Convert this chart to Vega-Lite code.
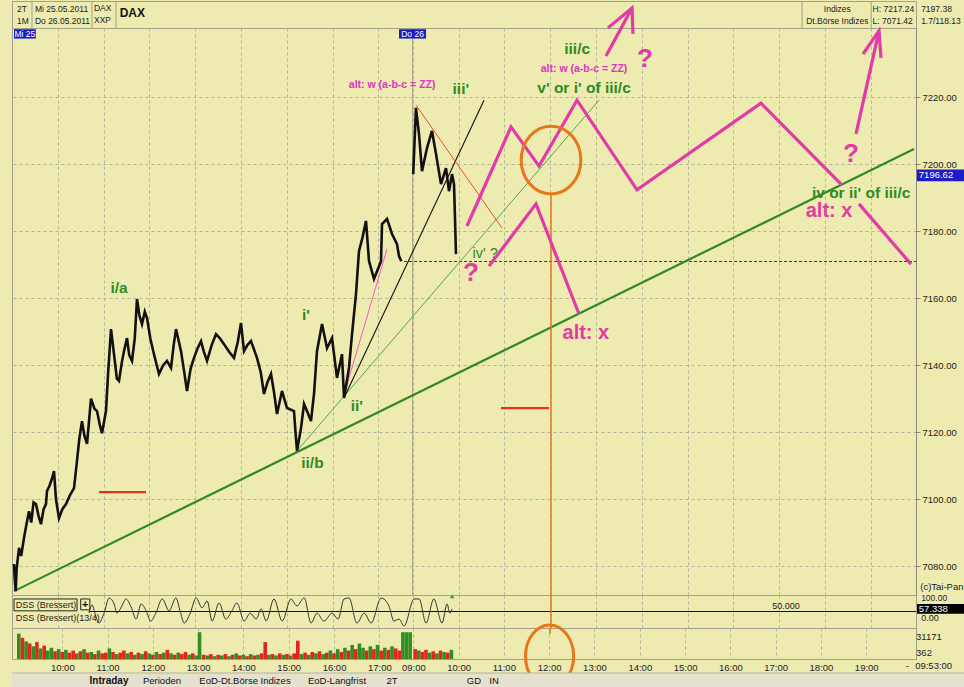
{
"$schema":"https://vega.github.io/schema/vega-lite/v6.json",
"background":"#EEEBB1",
"padding":{"left":8,"top":0,"right":0,"bottom":0},
"bounds":"flush",
"spacing":0,
"config":{"view":{"stroke":"#A3A18C","strokeWidth":1},"font":"Liberation Sans","axis":{"labelFont":"Liberation Sans","titleFont":"Liberation Sans"},"text":{"font":"Liberation Sans"}},
"resolve":{"scale":{"x":"independent","y":"independent","color":"independent"}},
"datasets":{
"price":[
{"d":1,"t":0.044,"p":7080.6},{"d":1,"t":0.06,"p":7076},{"d":1,"t":0.081,"p":7072.5},{"d":1,"t":0.1,"p":7079},{"d":1,"t":0.153,"p":7085.4},{"d":1,"t":0.2,"p":7083},{"d":1,"t":0.262,"p":7088.4},{"d":1,"t":0.31,"p":7092},{"d":1,"t":0.371,"p":7096.4},{"d":1,"t":0.42,"p":7093},{"d":1,"t":0.47,"p":7099},{"d":1,"t":0.524,"p":7098.5},{"d":1,"t":0.58,"p":7095},{"d":1,"t":0.633,"p":7092.5},{"d":1,"t":0.69,"p":7097},{"d":1,"t":0.742,"p":7098.5},{"d":1,"t":0.764,"p":7102.4},{"d":1,"t":0.82,"p":7104},{"d":1,"t":0.87,"p":7106},{"d":1,"t":0.917,"p":7108.4},{"d":1,"t":0.96,"p":7100},{"d":1,"t":1.026,"p":7094.3},{"d":1,"t":1.1,"p":7097},{"d":1,"t":1.179,"p":7098.5},{"d":1,"t":1.26,"p":7101},{"d":1,"t":1.354,"p":7103.3},{"d":1,"t":1.419,"p":7111.4},{"d":1,"t":1.47,"p":7118},{"d":1,"t":1.528,"p":7123.3},{"d":1,"t":1.58,"p":7119},{"d":1,"t":1.638,"p":7116.5},{"d":1,"t":1.725,"p":7130},{"d":1,"t":1.8,"p":7127},{"d":1,"t":1.856,"p":7126.3},{"d":1,"t":1.92,"p":7122},{"d":1,"t":1.965,"p":7119.7},{"d":1,"t":2.052,"p":7126.3},{"d":1,"t":2.1,"p":7138},{"d":1,"t":2.162,"p":7150.8},{"d":1,"t":2.227,"p":7143.3},{"d":1,"t":2.29,"p":7136},{"d":1,"t":2.336,"p":7135.3},{"d":1,"t":2.4,"p":7141},{"d":1,"t":2.445,"p":7144.2},{"d":1,"t":2.511,"p":7148.1},{"d":1,"t":2.56,"p":7143},{"d":1,"t":2.62,"p":7141.3},{"d":1,"t":2.68,"p":7148},{"d":1,"t":2.729,"p":7159.8},{"d":1,"t":2.78,"p":7155},{"d":1,"t":2.838,"p":7152.3},{"d":1,"t":2.9,"p":7156},{"d":1,"t":2.948,"p":7154.1},{"d":1,"t":3.02,"p":7148},{"d":1,"t":3.1,"p":7143.3},{"d":1,"t":3.16,"p":7140},{"d":1,"t":3.21,"p":7137.4},{"d":1,"t":3.3,"p":7140},{"d":1,"t":3.384,"p":7141.3},{"d":1,"t":3.472,"p":7139.2},{"d":1,"t":3.53,"p":7146},{"d":1,"t":3.581,"p":7150.8},{"d":1,"t":3.69,"p":7144.2},{"d":1,"t":3.76,"p":7138},{"d":1,"t":3.821,"p":7132.3},{"d":1,"t":3.9,"p":7139},{"d":1,"t":3.974,"p":7142.2},{"d":1,"t":4.05,"p":7145},{"d":1,"t":4.127,"p":7147.2},{"d":1,"t":4.19,"p":7144},{"d":1,"t":4.258,"p":7141.3},{"d":1,"t":4.36,"p":7146},{"d":1,"t":4.454,"p":7149.3},{"d":1,"t":4.54,"p":7148},{"d":1,"t":4.629,"p":7146.3},{"d":1,"t":4.74,"p":7144},{"d":1,"t":4.847,"p":7142.2},{"d":1,"t":4.93,"p":7147},{"d":1,"t":5.0,"p":7152.6},{"d":1,"t":5.066,"p":7144.2},{"d":1,"t":5.14,"p":7146},{"d":1,"t":5.218,"p":7147.2},{"d":1,"t":5.349,"p":7142.2},{"d":1,"t":5.43,"p":7138},{"d":1,"t":5.502,"p":7131.4},{"d":1,"t":5.58,"p":7135},{"d":1,"t":5.655,"p":7137.4},{"d":1,"t":5.72,"p":7132},{"d":1,"t":5.786,"p":7125.4},{"d":1,"t":5.895,"p":7132.3},{"d":1,"t":6.004,"p":7127.2},{"d":1,"t":6.157,"p":7126.3},{"d":1,"t":6.19,"p":7120},{"d":1,"t":6.223,"p":7114.4},{"d":1,"t":6.31,"p":7121.2},{"d":1,"t":6.376,"p":7128.4},{"d":1,"t":6.45,"p":7126},{"d":1,"t":6.528,"p":7123.3},{"d":1,"t":6.594,"p":7131.4},{"d":1,"t":6.659,"p":7144.2},{"d":1,"t":6.769,"p":7152.3},{"d":1,"t":6.878,"p":7145.1},{"d":1,"t":6.987,"p":7148.1},{"d":1,"t":7.096,"p":7136.2},{"d":1,"t":7.205,"p":7143.3},{"d":1,"t":7.249,"p":7130.2},{"d":1,"t":7.358,"p":7139.2},{"d":1,"t":7.424,"p":7149.3},{"d":1,"t":7.511,"p":7161.3},{"d":1,"t":7.576,"p":7174.1},{"d":1,"t":7.65,"p":7178},{"d":1,"t":7.729,"p":7183.1},{"d":1,"t":7.795,"p":7171.1},{"d":1,"t":7.904,"p":7165.8},{"d":1,"t":8.057,"p":7171.1},{"d":1,"t":8.079,"p":7182.2},{"d":1,"t":8.188,"p":7183.7},{"d":1,"t":8.297,"p":7179.2},{"d":1,"t":8.406,"p":7176.2},{"d":1,"t":8.45,"p":7172.6},{"d":1,"t":8.5,"p":7171.1},
{"d":2,"t":8.76,"p":7197.1},{"d":2,"t":8.79,"p":7207},{"d":2,"t":8.82,"p":7216.9},{"d":2,"t":8.886,"p":7209.1},{"d":2,"t":8.952,"p":7198},{"d":2,"t":9.0,"p":7201},{"d":2,"t":9.061,"p":7204.9},{"d":2,"t":9.17,"p":7210},{"d":2,"t":9.258,"p":7203.1},{"d":2,"t":9.367,"p":7194.1},{"d":2,"t":9.476,"p":7198.9},{"d":2,"t":9.541,"p":7192},{"d":2,"t":9.607,"p":7197.1},{"d":2,"t":9.651,"p":7194.1},{"d":2,"t":9.67,"p":7185},{"d":2,"t":9.694,"p":7173.2}
],
"lines":[
{"n":"trend","i":0,"t":0.044,"p":7072.5},{"n":"trend","i":1,"t":19.694,"p":7204.6},
{"n":"trend2","i":0,"t":6.223,"p":7114.4},{"n":"trend2","i":1,"t":12.817,"p":7219.2},
{"n":"fan1","i":0,"t":7.249,"p":7130.2},{"n":"fan1","i":1,"t":10.306,"p":7219.2},
{"n":"fan2","i":0,"t":7.293,"p":7133.2},{"n":"fan2","i":1,"t":8.188,"p":7174.7},
{"n":"down","i":0,"t":8.821,"p":7217.7},{"n":"down","i":1,"t":10.699,"p":7181.0},
{"n":"lvl1","i":0,"t":1.9,"p":7102.1},{"n":"lvl1","i":1,"t":2.926,"p":7102.1},
{"n":"lvl2","i":0,"t":10.677,"p":7127.2},{"n":"lvl2","i":1,"t":11.725,"p":7127.2}
],
"mag":[
{"n":"zz1a","i":0,"t":9.934,"p":7181.6},{"n":"zz1a","i":1,"t":10.895,"p":7211.2},{"n":"zz1a","i":2,"t":11.507,"p":7199.5},{"n":"zz1a","i":3,"t":12.336,"p":7219.2},{"n":"zz1a","i":4,"t":13.646,"p":7192.4},{"n":"zz1a","i":5,"t":16.354,"p":7218.3},{"n":"zz1a","i":6,"t":18.122,"p":7193.8},
{"n":"zz1b","i":0,"t":18.493,"p":7188.2},{"n":"zz1b","i":1,"t":19.629,"p":7170.2},
{"n":"zz2","i":0,"t":10.415,"p":7169.6},{"n":"zz2","i":1,"t":11.441,"p":7188.2},{"n":"zz2","i":2,"t":12.38,"p":7155.3},
{"n":"ar1","i":0,"t":12.969,"p":7232.4},{"n":"ar1","i":1,"t":13.537,"p":7246.7},
{"n":"ar1h","i":0,"t":13.013,"p":7240.8},{"n":"ar1h","i":1,"t":13.537,"p":7246.7},{"n":"ar1h","i":2,"t":13.559,"p":7239.0},
{"n":"ar2","i":0,"t":18.428,"p":7209.1},{"n":"ar2","i":1,"t":18.93,"p":7239.9},
{"n":"ar2h","i":0,"t":18.581,"p":7233.0},{"n":"ar2h","i":1,"t":18.93,"p":7239.9},{"n":"ar2h","i":2,"t":18.974,"p":7231.8}
],
"notes":[
{"k":"gb","t":2.336,"p":7163.1,"s":"i/a"},{"k":"gb","t":6.42,"p":7155.0,"s":"i'"},{"k":"gb","t":6.56,"p":7110.8,"s":"ii/b"},{"k":"gb","t":7.53,"p":7127.8,"s":"ii'"},{"k":"gb","t":9.8,"p":7222.5,"s":"iii'"},{"k":"gb","t":12.34,"p":7234.5,"s":"iii/c"},{"k":"gb","t":12.49,"p":7222.8,"s":"v' or i' of iii/c"},{"k":"gb","t":18.54,"p":7191.5,"s":"iv or ii' of iii/c"},
{"k":"gn","t":10.33,"p":7173.2,"s":"iv' ?"},
{"k":"q","t":13.82,"p":7231.5,"s":"?"},{"k":"q","t":10.02,"p":7167.6,"s":"?"},{"k":"q","t":18.32,"p":7203.1,"s":"?"},
{"k":"ax","t":12.53,"p":7149.6,"s":"alt: x"},{"k":"ax","t":17.84,"p":7186.1,"s":"alt: x"},
{"k":"aw","t":8.3,"p":7223.7,"s":"alt: w (a-b-c = ZZ)"},{"k":"aw","t":12.49,"p":7228.5,"s":"alt: w (a-b-c = ZZ)"}
],
"dss":[
{"t":1.68,"v":45},{"t":1.75,"v":70},{"t":1.81,"v":45},{"t":1.9,"v":15},{"t":2.01,"v":45},{"t":2.12,"v":91},{"t":2.23,"v":73},{"t":2.29,"v":45},{"t":2.4,"v":67},{"t":2.49,"v":88},{"t":2.6,"v":64},{"t":2.71,"v":27},{"t":2.82,"v":73},{"t":2.93,"v":52},{"t":3.03,"v":21},{"t":3.14,"v":45},{"t":3.28,"v":88},{"t":3.43,"v":52},{"t":3.58,"v":91},{"t":3.67,"v":52},{"t":3.76,"v":15},{"t":3.89,"v":45},{"t":4.02,"v":91},{"t":4.15,"v":61},{"t":4.26,"v":82},{"t":4.37,"v":21},{"t":4.52,"v":76},{"t":4.67,"v":27},{"t":4.8,"v":52},{"t":4.91,"v":76},{"t":5.07,"v":21},{"t":5.2,"v":45},{"t":5.33,"v":27},{"t":5.44,"v":58},{"t":5.55,"v":21},{"t":5.72,"v":88},{"t":5.9,"v":21},{"t":6.09,"v":88},{"t":6.22,"v":67},{"t":6.38,"v":91},{"t":6.53,"v":15},{"t":6.66,"v":45},{"t":6.81,"v":21},{"t":6.99,"v":45},{"t":7.12,"v":27},{"t":7.25,"v":88},{"t":7.36,"v":91},{"t":7.53,"v":15},{"t":7.69,"v":45},{"t":7.84,"v":15},{"t":8.06,"v":91},{"t":8.23,"v":67},{"t":8.34,"v":21},{"t":8.45,"v":27},{"t":8.56,"v":6},{"t":8.78,"v":88},{"t":8.89,"v":88},{"t":9.04,"v":15},{"t":9.21,"v":88},{"t":9.39,"v":15},{"t":9.5,"v":73},{"t":9.56,"v":45},{"t":9.61,"v":58}
],
"vol":[
{"t":0.04,"v":36,"c":"g"},{"t":0.12,"v":30,"c":"r"},{"t":0.2,"v":25,"c":"g"},{"t":0.28,"v":22,"c":"r"},{"t":0.36,"v":18,"c":"g"},{"t":0.44,"v":24,"c":"r"},{"t":0.52,"v":15,"c":"g"},{"t":0.6,"v":19,"c":"r"},{"t":0.68,"v":12,"c":"g"},{"t":0.76,"v":16,"c":"g"},{"t":0.84,"v":11,"c":"r"},{"t":0.92,"v":14,"c":"g"},{"t":1.0,"v":10,"c":"r"},{"t":1.08,"v":13,"c":"g"},{"t":1.16,"v":9,"c":"r"},{"t":1.24,"v":12,"c":"r"},{"t":1.32,"v":8,"c":"g"},{"t":1.4,"v":11,"c":"r"},{"t":1.48,"v":14,"c":"g"},{"t":1.56,"v":9,"c":"r"},{"t":1.64,"v":10,"c":"g"},{"t":1.72,"v":7,"c":"r"},{"t":1.8,"v":12,"c":"g"},{"t":1.88,"v":8,"c":"r"},{"t":1.96,"v":9,"c":"r"},{"t":2.04,"v":15,"c":"g"},{"t":2.12,"v":10,"c":"r"},{"t":2.2,"v":7,"c":"g"},{"t":2.28,"v":9,"c":"r"},{"t":2.36,"v":12,"c":"r"},{"t":2.44,"v":8,"c":"g"},{"t":2.52,"v":10,"c":"r"},{"t":2.6,"v":6,"c":"g"},{"t":2.68,"v":9,"c":"r"},{"t":2.76,"v":7,"c":"g"},{"t":2.84,"v":11,"c":"r"},{"t":2.92,"v":8,"c":"g"},{"t":3.0,"v":6,"c":"r"},{"t":3.08,"v":10,"c":"g"},{"t":3.16,"v":7,"c":"r"},{"t":3.24,"v":9,"c":"g"},{"t":3.32,"v":13,"c":"r"},{"t":3.4,"v":8,"c":"g"},{"t":3.48,"v":6,"c":"r"},{"t":3.56,"v":9,"c":"g"},{"t":3.64,"v":7,"c":"r"},{"t":3.72,"v":10,"c":"r"},{"t":3.8,"v":6,"c":"g"},{"t":3.88,"v":8,"c":"r"},{"t":3.96,"v":5,"c":"g"},{"t":4.03,"v":38,"c":"g"},{"t":4.12,"v":6,"c":"r"},{"t":4.2,"v":5,"c":"g"},{"t":4.28,"v":7,"c":"r"},{"t":4.36,"v":4,"c":"g"},{"t":4.44,"v":6,"c":"r"},{"t":4.52,"v":5,"c":"g"},{"t":4.6,"v":7,"c":"r"},{"t":4.68,"v":4,"c":"g"},{"t":4.76,"v":6,"c":"r"},{"t":4.84,"v":8,"c":"g"},{"t":4.92,"v":5,"c":"r"},{"t":5.0,"v":6,"c":"g"},{"t":5.08,"v":4,"c":"r"},{"t":5.16,"v":7,"c":"g"},{"t":5.24,"v":5,"c":"r"},{"t":5.32,"v":6,"c":"g"},{"t":5.4,"v":8,"c":"r"},{"t":5.48,"v":24,"c":"r"},{"t":5.56,"v":6,"c":"g"},{"t":5.64,"v":7,"c":"r"},{"t":5.72,"v":5,"c":"g"},{"t":5.8,"v":8,"c":"r"},{"t":5.88,"v":6,"c":"g"},{"t":5.96,"v":7,"c":"r"},{"t":6.04,"v":5,"c":"g"},{"t":6.12,"v":8,"c":"r"},{"t":6.2,"v":26,"c":"r"},{"t":6.28,"v":7,"c":"g"},{"t":6.36,"v":9,"c":"r"},{"t":6.44,"v":6,"c":"g"},{"t":6.52,"v":10,"c":"r"},{"t":6.6,"v":8,"c":"g"},{"t":6.68,"v":11,"c":"r"},{"t":6.76,"v":7,"c":"g"},{"t":6.84,"v":9,"c":"r"},{"t":6.92,"v":12,"c":"g"},{"t":7.0,"v":8,"c":"r"},{"t":7.08,"v":14,"c":"g"},{"t":7.16,"v":10,"c":"r"},{"t":7.24,"v":16,"c":"g"},{"t":7.32,"v":12,"c":"r"},{"t":7.4,"v":20,"c":"g"},{"t":7.48,"v":14,"c":"r"},{"t":7.56,"v":22,"c":"g"},{"t":7.64,"v":16,"c":"g"},{"t":7.72,"v":12,"c":"r"},{"t":7.8,"v":18,"c":"g"},{"t":7.88,"v":14,"c":"r"},{"t":7.96,"v":20,"c":"g"},{"t":8.04,"v":12,"c":"r"},{"t":8.12,"v":16,"c":"g"},{"t":8.2,"v":13,"c":"r"},{"t":8.28,"v":18,"c":"g"},{"t":8.36,"v":15,"c":"r"},{"t":8.44,"v":12,"c":"r"},{"t":8.52,"v":38,"c":"g"},{"t":8.6,"v":38,"c":"g"},{"t":8.68,"v":38,"c":"g"},
{"t":8.79,"v":14,"c":"r"},{"t":8.87,"v":12,"c":"g"},{"t":8.95,"v":10,"c":"r"},{"t":9.03,"v":13,"c":"r"},{"t":9.11,"v":9,"c":"g"},{"t":9.19,"v":11,"c":"r"},{"t":9.27,"v":8,"c":"g"},{"t":9.35,"v":12,"c":"r"},{"t":9.43,"v":10,"c":"g"},{"t":9.51,"v":9,"c":"r"},{"t":9.59,"v":13,"c":"g"}
]
},
"vconcat":[
{
"width":904,"height":27,
"layer":[
{"data":{"values":[{"t":0.437},{"t":1.747},{"t":2.27},{"t":17.25},{"t":18.76}]},"mark":{"type":"rule","color":"#A3A18C"},
 "encoding":{"x":{"field":"t","type":"quantitative","scale":{"domain":[0,19.738],"nice":false,"zero":false},"axis":null}}},
{"data":{"values":[{"t":0.109,"r":0.667,"s":"2T"},{"t":0.109,"r":1.667,"s":"1M"},{"t":0.5,"r":0.667,"s":"Mi 25.05.2011"},{"t":0.5,"r":1.667,"s":"Do 26.05.2011"},{"t":1.79,"r":0.6,"s":"DAX"},{"t":1.79,"r":1.6,"s":"XXP"},{"t":18.79,"r":0.667,"s":"H: 7217.24"},{"t":18.79,"r":1.667,"s":"L: 7071.42"},{"t":19.85,"r":0.667,"s":"7197.38"},{"t":19.85,"r":1.667,"s":"1.7/118.13"}]},
 "mark":{"type":"text","align":"left","baseline":"middle","fontSize":8.5,"color":"#222"},
 "encoding":{"x":{"field":"t","type":"quantitative","axis":null},"y":{"field":"r","type":"quantitative","scale":{"domain":[0,2.25],"reverse":true,"nice":false,"zero":false},"axis":null},"text":{"field":"s"}}},
{"data":{"values":[{"t":18.02,"r":0.667,"s":"Indizes"},{"t":18.02,"r":1.667,"s":"Dt.Börse Indizes"}]},
 "mark":{"type":"text","align":"center","baseline":"middle","fontSize":8.5,"color":"#222"},
 "encoding":{"x":{"field":"t","type":"quantitative","axis":null},"y":{"field":"r","type":"quantitative","axis":null},"text":{"field":"s"}}},
{"data":{"values":[{"t":2.35,"r":1.0,"s":"DAX"}]},
 "mark":{"type":"text","align":"left","baseline":"middle","fontSize":12,"fontWeight":"bold","color":"#111"},
 "encoding":{"x":{"field":"t","type":"quantitative","axis":null},"y":{"field":"r","type":"quantitative","axis":null},"text":{"field":"s"}}}
]
},
{
"width":904,"height":567,
"layer":[
{"data":{"values":[{"t":8.75}]},"mark":{"type":"rule","color":"#9D9B88"},
 "encoding":{"x":{"field":"t","type":"quantitative","scale":{"domain":[0,19.738],"nice":false,"zero":false},
  "axis":{"values":[1,2,3,4,5,6,7,8,8.75,9.75,10.75,11.75,12.75,13.75,14.75,15.75,16.75,17.75,18.75],"labels":false,"ticks":false,"domain":false,"grid":true,"gridDash":[3,3],"gridColor":"#B5B39C","title":null}}}},
{"data":{"values":[{"t":8.56,"t2":19.738,"p":7171}]},"mark":{"type":"rule","color":"#2B2B8C","strokeDash":[3,2],"strokeWidth":1},
 "encoding":{"x":{"field":"t","type":"quantitative"},"x2":{"field":"t2"},
  "y":{"field":"p","type":"quantitative","scale":{"domain":[7071.34,7240.76],"nice":false,"zero":false},
   "axis":{"orient":"right","values":[7080,7090,7100,7110,7120,7130,7140,7150,7160,7170,7180,7190,7200,7210,7220,7230],"format":".2f","grid":true,"gridDash":[3,3],"gridColor":"#B5B39C","tickSize":4,"tickColor":"#8A8878","domainColor":"#8A8878","labelFontSize":9.5,"labelColor":"#222","labelPadding":2,"title":null}}}},
{"data":{"name":"lines"},"transform":[{"filter":"datum.n=='trend'"}],"mark":{"type":"line","color":"#2F8A22","strokeWidth":2.2},
 "encoding":{"x":{"field":"t","type":"quantitative"},"y":{"field":"p","type":"quantitative"},"order":{"field":"i"}}},
{"data":{"name":"lines"},"transform":[{"filter":"datum.n=='trend2'"}],"mark":{"type":"line","color":"#3F9F3F","strokeWidth":0.9},
 "encoding":{"x":{"field":"t","type":"quantitative"},"y":{"field":"p","type":"quantitative"},"order":{"field":"i"}}},
{"data":{"name":"lines"},"transform":[{"filter":"datum.n=='fan1'"}],"mark":{"type":"line","color":"#111111","strokeWidth":1.1},
 "encoding":{"x":{"field":"t","type":"quantitative"},"y":{"field":"p","type":"quantitative"},"order":{"field":"i"}}},
{"data":{"name":"lines"},"transform":[{"filter":"datum.n=='fan2'"}],"mark":{"type":"line","color":"#F05AC8","strokeWidth":1},
 "encoding":{"x":{"field":"t","type":"quantitative"},"y":{"field":"p","type":"quantitative"},"order":{"field":"i"}}},
{"data":{"name":"lines"},"transform":[{"filter":"datum.n=='down'"}],"mark":{"type":"line","color":"#E5401A","strokeWidth":0.9},
 "encoding":{"x":{"field":"t","type":"quantitative"},"y":{"field":"p","type":"quantitative"},"order":{"field":"i"}}},
{"data":{"name":"lines"},"transform":[{"filter":"datum.n=='lvl1' || datum.n=='lvl2'"}],"mark":{"type":"line","color":"#E8301C","strokeWidth":2.2},
 "encoding":{"x":{"field":"t","type":"quantitative"},"y":{"field":"p","type":"quantitative"},"detail":{"field":"n"},"order":{"field":"i"}}},
{"data":{"values":[{"t":11.769,"p":7191.2,"p2":7071.34}]},"mark":{"type":"rule","color":"#E8761C","strokeWidth":1.5},
 "encoding":{"x":{"field":"t","type":"quantitative"},"y":{"field":"p","type":"quantitative"},"y2":{"field":"p2"}}},
{"data":{"name":"price"},"mark":{"type":"line","color":"#111111","strokeWidth":2.6,"strokeJoin":"miter"},
 "encoding":{"x":{"field":"t","type":"quantitative"},"y":{"field":"p","type":"quantitative"},"detail":{"field":"d"}}},
{"data":{"name":"mag"},"mark":{"type":"line","color":"#E23AA6","strokeWidth":3.2},
 "encoding":{"x":{"field":"t","type":"quantitative"},"y":{"field":"p","type":"quantitative"},"detail":{"field":"n"},"order":{"field":"i"}}},
{"data":{"values":[{"t":11.769,"p":7201.3}]},"mark":{"type":"point","shape":"M-0.88,0A0.88,1,0,1,0,0.88,0A0.88,1,0,1,0,-0.88,0Z","size":4600,"filled":false,"stroke":"#E8761C","strokeWidth":3,"opacity":1},
 "encoding":{"x":{"field":"t","type":"quantitative"},"y":{"field":"p","type":"quantitative"}}},
{"data":{"name":"notes"},"transform":[{"filter":"datum.k=='gb'"}],"mark":{"type":"text","fontSize":15.5,"fontWeight":"bold","color":"#2E8B1F","baseline":"middle"},
 "encoding":{"x":{"field":"t","type":"quantitative"},"y":{"field":"p","type":"quantitative"},"text":{"field":"s"}}},
{"data":{"name":"notes"},"transform":[{"filter":"datum.k=='gn'"}],"mark":{"type":"text","fontSize":14.5,"color":"#2E8B1F","baseline":"middle"},
 "encoding":{"x":{"field":"t","type":"quantitative"},"y":{"field":"p","type":"quantitative"},"text":{"field":"s"}}},
{"data":{"name":"notes"},"transform":[{"filter":"datum.k=='q'"}],"mark":{"type":"text","fontSize":26,"fontWeight":"bold","color":"#E23AA6","baseline":"middle"},
 "encoding":{"x":{"field":"t","type":"quantitative"},"y":{"field":"p","type":"quantitative"},"text":{"field":"s"}}},
{"data":{"name":"notes"},"transform":[{"filter":"datum.k=='ax'"}],"mark":{"type":"text","fontSize":20,"fontWeight":"bold","color":"#E23AA6","baseline":"middle"},
 "encoding":{"x":{"field":"t","type":"quantitative"},"y":{"field":"p","type":"quantitative"},"text":{"field":"s"}}},
{"data":{"name":"notes"},"transform":[{"filter":"datum.k=='aw'"}],"mark":{"type":"text","fontSize":10.5,"fontWeight":"bold","color":"#D836C0","baseline":"middle"},
 "encoding":{"x":{"field":"t","type":"quantitative"},"y":{"field":"p","type":"quantitative"},"text":{"field":"s"}}},
{"data":{"values":[{"t":0.044,"t2":0.52,"p":7240.4,"p2":7237.6},{"t":8.45,"t2":9.04,"p":7240.4,"p2":7237.6},{"t":19.76,"t2":20.85,"p":7198.5,"p2":7195.0}]},
 "mark":{"type":"rect","color":"#1C1CC8"},
 "encoding":{"x":{"field":"t","type":"quantitative"},"x2":{"field":"t2"},"y":{"field":"p","type":"quantitative"},"y2":{"field":"p2"}}},
{"data":{"values":[{"tc":0.282,"pc":7239.0,"s":"Mi 25"},{"tc":8.745,"pc":7239.0,"s":"Do 26"}]},
 "mark":{"type":"text","fontSize":8.5,"color":"#FFFFFF","baseline":"middle","align":"center"},
 "encoding":{"x":{"field":"tc","type":"quantitative"},"y":{"field":"pc","type":"quantitative"},"text":{"field":"s"}}},
{"data":{"values":[{"tc":19.8,"pc":7196.75,"s":"7196.62"}]},
 "mark":{"type":"text","fontSize":9.5,"color":"#FFFFFF","baseline":"middle","align":"left"},
 "encoding":{"x":{"field":"tc","type":"quantitative"},"y":{"field":"pc","type":"quantitative"},"text":{"field":"s"}}},
{"data":{"values":[{"tc":19.83,"pc":7073.6,"s":"(c)Tai-Pan"}]},
 "mark":{"type":"text","fontSize":9.5,"color":"#222","baseline":"middle","align":"left"},
 "encoding":{"x":{"field":"tc","type":"quantitative"},"y":{"field":"pc","type":"quantitative"},"text":{"field":"s"}}}
]
},
{
"width":904,"height":33,
"layer":[
{"data":{"values":[{"t":1.68,"t2":19.738,"v":50}]},"mark":{"type":"rule","color":"#111111","strokeWidth":1.2},
 "encoding":{"x":{"field":"t","type":"quantitative","scale":{"domain":[0,19.738],"nice":false,"zero":false},
  "axis":{"values":[1,2,3,4,5,6,7,8,8.75,9.75,10.75,11.75,12.75,13.75,14.75,15.75,16.75,17.75,18.75],"labels":false,"ticks":false,"domain":false,"grid":true,"gridDash":[3,3],"gridColor":"#B5B39C","title":null}},
  "x2":{"field":"t2"},
  "y":{"field":"v","type":"quantitative","scale":{"domain":[0,100],"nice":false,"zero":false},"axis":null}}},
{"data":{"values":[{"t":11.769}]},"mark":{"type":"rule","color":"#E8761C","strokeWidth":1.5},
 "encoding":{"x":{"field":"t","type":"quantitative"}}},
{"data":{"name":"dss"},"mark":{"type":"line","color":"#333333","strokeWidth":1,"interpolate":"monotone"},
 "encoding":{"x":{"field":"t","type":"quantitative"},"y":{"field":"v","type":"quantitative"}}},
{"data":{"values":[{"t":0.044,"t2":1.42,"v":88,"v2":52},{"t":1.5,"t2":1.7,"v":88,"v2":55}]},"mark":{"type":"rect","filled":false,"color":"#222222","strokeWidth":1},
 "encoding":{"x":{"field":"t","type":"quantitative"},"x2":{"field":"t2"},"y":{"field":"v","type":"quantitative"},"y2":{"field":"v2"}}},
{"data":{"values":[{"t":0.08,"v":70,"s":"DSS (Bressert)"},{"t":0.08,"v":30,"s":"DSS (Bressert)(13/4)"},{"t":19.85,"v":30,"s":"0.00"}]},
 "mark":{"type":"text","fontSize":9,"color":"#222","baseline":"middle","align":"left"},
 "encoding":{"x":{"field":"t","type":"quantitative"},"y":{"field":"v","type":"quantitative"},"text":{"field":"s"}}},
{"data":{"values":[{"t":19.85,"v":90,"s":"100.00"}]},
 "mark":{"type":"text","fontSize":8.5,"color":"#222","baseline":"middle","align":"left"},
 "encoding":{"x":{"field":"t","type":"quantitative"},"y":{"field":"v","type":"quantitative"},"text":{"field":"s"}}},
{"data":{"values":[{"t":1.6,"v":71,"s":"+"}]},
 "mark":{"type":"text","fontSize":11,"fontWeight":"bold","color":"#111","baseline":"middle","align":"center"},
 "encoding":{"x":{"field":"t","type":"quantitative"},"y":{"field":"v","type":"quantitative"},"text":{"field":"s"}}},
{"data":{"values":[{"t":16.9,"v":67,"s":"50.000"}]},
 "mark":{"type":"text","fontSize":9,"color":"#222","baseline":"middle","align":"center"},
 "encoding":{"x":{"field":"t","type":"quantitative"},"y":{"field":"v","type":"quantitative"},"text":{"field":"s"}}},
{"data":{"values":[{"t":19.76,"t2":20.85,"v":73,"v2":43}]},"mark":{"type":"rect","color":"#000000"},
 "encoding":{"x":{"field":"t","type":"quantitative"},"x2":{"field":"t2"},"y":{"field":"v","type":"quantitative"},"y2":{"field":"v2"}}},
{"data":{"values":[{"t":19.8,"v":58,"s":"57.338"}]},
 "mark":{"type":"text","fontSize":9.5,"color":"#FFFFFF","baseline":"middle","align":"left"},
 "encoding":{"x":{"field":"t","type":"quantitative"},"y":{"field":"v","type":"quantitative"},"text":{"field":"s"}}},
{"data":{"values":[{"t":9.61,"v":96}]},"mark":{"type":"point","shape":"triangle-up","filled":true,"color":"#2FA83A","size":22,"opacity":1},
 "encoding":{"x":{"field":"t","type":"quantitative"},"y":{"field":"v","type":"quantitative"}}}
]
},
{
"width":904,"height":31,
"layer":[
{"data":{"name":"vol"},"mark":{"type":"bar","size":3.6,"opacity":1},
 "encoding":{"x":{"field":"t","type":"quantitative","scale":{"domain":[0,19.738],"nice":false,"zero":false},
  "axis":{"values":[1,2,3,4,5,6,7,8,8.75,9.75,10.75,11.75,12.75,13.75,14.75,15.75,16.75,17.75,18.75],"labelExpr":"datum.value < 8.6 ? (9 + datum.value) + ':00' : format(datum.value + 0.25, '02d') + ':00'","labelFontSize":9.5,"labelColor":"#222","labelPadding":3,"ticks":false,"domain":false,"grid":true,"gridDash":[3,3],"gridColor":"#B5B39C","title":null}},
  "y":{"field":"v","type":"quantitative","scale":{"domain":[0,44],"nice":false,"zero":true},"axis":null},
  "color":{"field":"c","type":"nominal","scale":{"domain":["r","g"],"range":["#E3261B","#2F8F25"]},"legend":null}}},
{"data":{"values":[{"t":11.769,"v":35.5,"v2":44}]},"mark":{"type":"rule","color":"#E8761C","strokeWidth":1.5},
 "encoding":{"x":{"field":"t","type":"quantitative"},"y":{"field":"v","type":"quantitative"},"y2":{"field":"v2"}}},
{"data":{"values":[{"t":11.758,"v":4.0}]},"mark":{"type":"point","shape":"M-0.77,0A0.77,1,0,1,0,0.77,0A0.77,1,0,1,0,-0.77,0Z","size":3900,"filled":false,"stroke":"#E8761C","strokeWidth":3,"opacity":1},
 "encoding":{"x":{"field":"t","type":"quantitative"},"y":{"field":"v","type":"quantitative"}}},
{"data":{"values":[{"t":19.85,"v":31.2,"s":"31171"},{"t":19.85,"v":8.5,"s":"362"},{"t":19.83,"v":-9.9,"s":"09:53:00"},{"t":19.62,"v":-9.9,"s":"-"}]},
 "mark":{"type":"text","fontSize":9.5,"color":"#222","baseline":"middle","align":"left"},
 "encoding":{"x":{"field":"t","type":"quantitative"},"y":{"field":"v","type":"quantitative"},"text":{"field":"s"}}}
]
},
{
"width":904,"height":29,
"view":{"stroke":null},
"layer":[
{"data":{"values":[{"t":0,"t2":20.85,"y":0,"y2":15}]},"mark":{"type":"rect","color":"#E4E1CE"},
 "encoding":{"x":{"field":"t","type":"quantitative","scale":{"domain":[0,19.738],"nice":false,"zero":false},"axis":null},"x2":{"field":"t2"},
  "y":{"field":"y","type":"quantitative","scale":{"domain":[0,29],"nice":false,"zero":false},"axis":null},"y2":{"field":"y2"}}},
{"data":{"values":[{"t":0,"t2":20.85,"y":15}]},"mark":{"type":"rule","color":"#B5B3A0"},
 "encoding":{"x":{"field":"t","type":"quantitative"},"x2":{"field":"t2"},"y":{"field":"y","type":"quantitative"}}},
{"data":{"values":[{"t":2.118,"y":7.5,"s":"Intraday"}]},
 "mark":{"type":"text","fontSize":10,"fontWeight":"bold","color":"#111","baseline":"middle","align":"center"},
 "encoding":{"x":{"field":"t","type":"quantitative"},"y":{"field":"y","type":"quantitative"},"text":{"field":"s"}}},
{"data":{"values":[{"t":3.275,"y":7.5,"s":"Perioden"},{"t":5.087,"y":7.5,"s":"EoD-Dt.Börse Indizes"},{"t":7.096,"y":7.5,"s":"EoD-Langfrist"},{"t":8.297,"y":7.5,"s":"2T"},{"t":10.087,"y":7.5,"s":"GD"},{"t":10.524,"y":7.5,"s":"IN"}]},
 "mark":{"type":"text","fontSize":9.5,"color":"#111","baseline":"middle","align":"center"},
 "encoding":{"x":{"field":"t","type":"quantitative"},"y":{"field":"y","type":"quantitative"},"text":{"field":"s"}}}
]
}
]
}
